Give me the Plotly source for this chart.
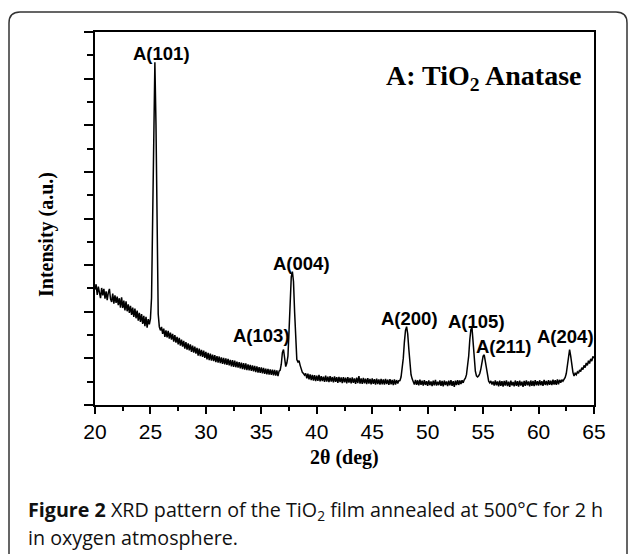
import numpy as np
import plotly.graph_objects as go

# 2-theta grid (deg), step 0.1 from 20 to 65
two_theta_start = 20.0
two_theta_step = 0.1

# Intensity (a.u.), one row per degree
intensity = [
    4.95, 5.18, 4.72, 5.08, 4.82, 4.58, 5.02, 4.70, 4.98, 4.56,
    4.88, 4.50, 4.82, 4.98, 4.55, 4.42, 4.78, 4.35, 4.70, 4.38,
    4.65, 4.28, 4.58, 4.18, 4.62, 4.16, 4.48, 4.06, 4.45, 4.02,
    4.32, 3.95, 4.25, 3.86, 4.18, 3.78, 4.14, 3.72, 4.05, 3.62,
    3.95, 3.56, 3.90, 3.48, 3.82, 3.38, 3.78, 3.32, 3.68, 3.46,
    3.70, 4.60, 8.00, 13.00, 14.70, 12.00, 6.50, 3.90, 3.35, 3.20,
    3.35, 3.05, 3.28, 2.92, 3.20, 2.90, 3.18, 2.85, 3.10, 2.80,
    3.05, 2.72, 3.00, 2.68, 2.92, 2.60, 2.88, 2.55, 2.80, 2.50,
    2.75, 2.42, 2.70, 2.38, 2.64, 2.34, 2.60, 2.28, 2.55, 2.25,
    2.50, 2.20, 2.45, 2.12, 2.42, 2.10, 2.36, 2.06, 2.33, 2.02,
    2.28, 1.96, 2.24, 1.92, 2.20, 1.90, 2.16, 1.88, 2.14, 1.84,
    2.10, 1.82, 2.08, 1.80, 2.04, 1.76, 2.02, 1.74, 2.00, 1.72,
    1.98, 1.70, 1.94, 1.66, 1.92, 1.64, 1.90, 1.62, 1.86, 1.60,
    1.84, 1.57, 1.82, 1.54, 1.80, 1.52, 1.78, 1.50, 1.74, 1.49,
    1.72, 1.46, 1.70, 1.44, 1.68, 1.41, 1.66, 1.39, 1.62, 1.38,
    1.61, 1.36, 1.59, 1.34, 1.56, 1.32, 1.55, 1.30, 1.53, 1.29,
    1.52, 1.27, 1.51, 1.26, 1.48, 1.24, 1.45, 1.50, 1.75, 2.25,
    2.38, 1.95, 1.65, 1.80, 2.10, 3.20, 4.60, 5.50, 5.72, 5.30,
    4.00, 2.60, 1.95, 1.85, 1.90, 1.70, 1.50, 1.40, 1.35, 1.28,
    1.36, 1.14, 1.34, 1.10, 1.31, 1.07, 1.29, 1.05, 1.28, 1.03,
    1.26, 1.04, 1.29, 1.01, 1.24, 1.03, 1.22, 0.99, 1.26, 1.00,
    1.22, 0.98, 1.24, 1.00, 1.20, 0.97, 1.23, 0.99, 1.19, 0.95,
    1.21, 0.98, 1.18, 0.94, 1.20, 0.97, 1.17, 0.93, 1.19, 0.96,
    1.16, 0.93, 1.18, 0.95, 1.14, 0.91, 1.17, 0.94, 1.24, 0.92,
    1.14, 0.91, 1.16, 0.93, 1.13, 0.90, 1.15, 0.92, 1.12, 0.89,
    1.14, 0.91, 1.11, 0.88, 1.13, 0.90, 1.10, 0.87, 1.12, 0.89,
    1.10, 0.87, 1.12, 0.90, 1.09, 0.86, 1.11, 0.89, 1.08, 0.85,
    1.10, 0.88, 1.07, 0.92, 1.04, 1.05, 1.20, 1.50, 2.00, 2.70,
    3.20, 3.36, 3.05, 2.40, 1.75, 1.30, 1.12, 0.98, 0.88, 1.08,
    0.86, 1.06, 0.84, 1.09, 0.87, 1.04, 0.83, 1.07, 0.86, 1.02,
    0.82, 1.05, 0.85, 1.01, 0.81, 1.04, 0.84, 1.08, 0.83, 1.00,
    0.85, 1.06, 0.82, 1.03, 0.80, 1.05, 0.86, 1.01, 0.81, 1.04,
    0.84, 1.07, 0.82, 1.02, 0.78, 1.04, 0.85, 1.06, 0.86, 1.05,
    0.90, 1.06, 0.95, 1.08, 1.15, 1.30, 1.60, 2.10, 2.80, 3.25,
    3.30, 2.75, 1.95, 1.45, 1.25, 1.20, 1.25, 1.35, 1.55, 1.90,
    2.10, 2.15, 1.85, 1.45, 1.15, 1.02, 0.95, 1.03, 0.88, 1.01,
    0.83, 1.05, 0.84, 1.01, 0.80, 1.04, 0.82, 1.02, 0.79, 1.03,
    0.83, 1.06, 0.81, 1.00, 0.78, 1.04, 0.84, 0.99, 0.80, 1.05,
    0.82, 1.02, 0.79, 1.04, 0.83, 1.00, 0.78, 1.03, 0.82, 1.06,
    0.84, 1.01, 0.80, 1.05, 0.82, 1.03, 0.81, 1.07, 0.84, 1.02,
    0.83, 1.06, 0.85, 1.02, 0.82, 1.08, 0.86, 1.03, 0.84, 1.07,
    0.87, 1.04, 0.85, 1.09, 0.88, 1.06, 0.86, 1.10, 0.89, 1.08,
    0.95, 1.08, 1.02, 1.10, 1.18, 1.35, 1.70, 2.20, 2.38, 2.10,
    1.70, 1.40, 1.24, 1.36, 1.30, 1.42, 1.36, 1.50, 1.44, 1.60,
    1.52, 1.70, 1.60, 1.80, 1.70, 1.90, 1.78, 1.98, 1.88, 2.08,
    2.02,
]
two_theta = [round(two_theta_start + two_theta_step * i, 2) for i in range(len(intensity))]

# Peak labels
peak_labels = ["A(101)", "A(103)", "A(004)", "A(200)", "A(105)", "A(211)", "A(204)"]
peak_label_x = [25.97, 35.0, 38.6, 48.4, 54.4, 56.9, 62.45]
peak_label_y = [15.06, 3.0, 6.08, 3.72, 3.58, 2.5, 2.93]

x_ticks = [20, 25, 30, 35, 40, 45, 50, 55, 60, 65]

W, H = 629, 554
L, R, T, B = 95, 35, 32, 149


def px(x):
    return (x - L) / (W - L - R)


def py(y):
    return (H - B - y) / (H - T - B)


fig = go.Figure()
fig.add_trace(go.Scatter(x=two_theta, y=intensity, mode="lines",
                         line=dict(color="black", width=1.5), hoverinfo="skip",
                         showlegend=False))

for t, xx, yy in zip(peak_labels, peak_label_x, peak_label_y):
    fig.add_annotation(x=xx, y=yy, xref="x", yref="y", text=f"<b>{t}</b>",
                       showarrow=False, xanchor="center", yanchor="middle",
                       font=dict(family="Liberation Sans, Arial", size=18.5, color="black"))

fig.add_annotation(x=px(583), y=py(78), xref="paper", yref="paper",
                   text="<b>A: TiO<sub>2</sub> Anatase</b>", showarrow=False,
                   xanchor="right", yanchor="middle",
                   font=dict(family="Liberation Serif, Times New Roman", size=28, color="black"))

fig.add_annotation(x=px(344), y=py(457), xref="paper", yref="paper",
                   text="<b>2θ (deg)</b>", showarrow=False, xanchor="center", yanchor="middle",
                   font=dict(family="Liberation Serif, Times New Roman", size=20, color="black"))

fig.add_annotation(x=px(47), y=py(235), xref="paper", yref="paper",
                   text="<b>Intensity (a.u.)</b>", showarrow=False, textangle=-90,
                   xanchor="center", yanchor="middle",
                   font=dict(family="Liberation Serif, Times New Roman", size=20, color="black"))

cap_font = dict(family="Open Sans", size=19.7, color="#111111")
fig.add_annotation(x=px(26), y=py(510), xref="paper", yref="paper",
                   text="<b>Figure 2</b> XRD pattern of the TiO<sub>2</sub> film annealed at 500°C for 2 h",
                   showarrow=False, xanchor="left", yanchor="middle", font=cap_font)
fig.add_annotation(x=px(26), y=py(537), xref="paper", yref="paper",
                   text="in oxygen atmosphere.",
                   showarrow=False, xanchor="left", yanchor="middle", font=cap_font)

# rounded border
x0, x1, y0, y1, r = 9, 627, 12, 570, 11
path = (f"M {px(x0)},{py(y1)} L {px(x0)},{py(y0 + r)} "
        f"Q {px(x0)},{py(y0)} {px(x0 + r)},{py(y0)} "
        f"L {px(x1 - r)},{py(y0)} Q {px(x1)},{py(y0)} {px(x1)},{py(y0 + r)} "
        f"L {px(x1)},{py(y1)}")
fig.add_shape(type="path", path=path, xref="paper", yref="paper",
              line=dict(color="#333333", width=1.5))

fig.update_xaxes(range=[20, 65], tickvals=x_ticks, ticks="outside", ticklen=7,
                 tickwidth=1.5, tickcolor="black", showline=True, linecolor="black",
                 linewidth=1.5, mirror=True, showgrid=False, zeroline=False,
                 tickfont=dict(family="Liberation Sans, Arial", size=21, color="black"),
                 minor=dict(dtick=2.5, tick0=20, ticks="outside", ticklen=4,
                            tickwidth=1.5, tickcolor="black", showgrid=False))
fig.update_yaxes(range=[0, 16], dtick=2, tick0=0, ticks="outside", ticklen=9,
                 tickwidth=1.5, tickcolor="black", showline=True, linecolor="black",
                 linewidth=1.5, mirror=True, showgrid=False, zeroline=False,
                 showticklabels=False,
                 minor=dict(dtick=1, tick0=0, ticks="outside", ticklen=6,
                            tickwidth=1.5, tickcolor="black", showgrid=False))

fig.update_layout(width=W, height=H, margin=dict(l=L, r=R, t=T, b=B),
                  paper_bgcolor="white", plot_bgcolor="white", showlegend=False)

fig.write_html("out.html")
